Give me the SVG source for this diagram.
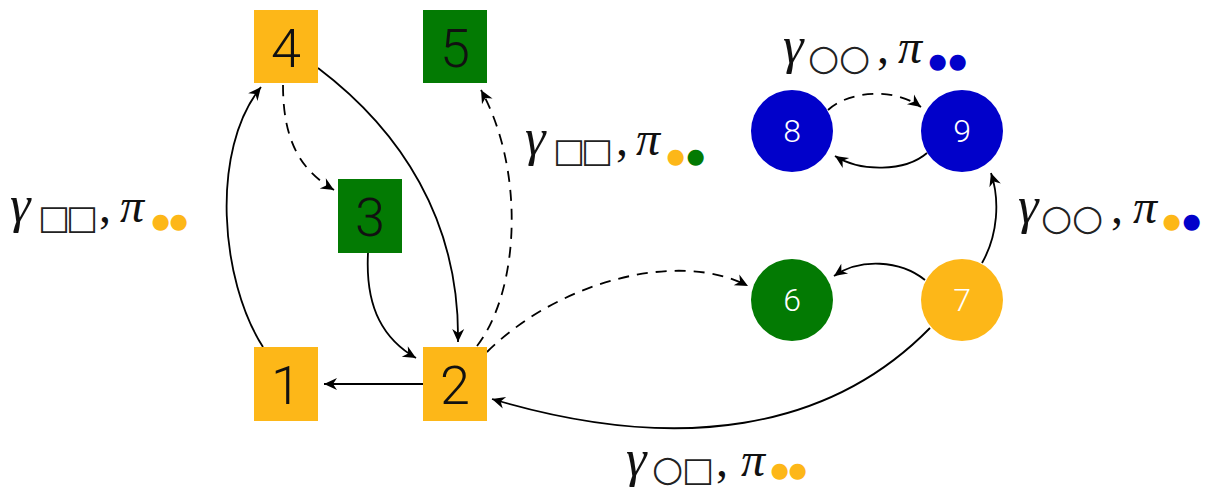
<svg xmlns="http://www.w3.org/2000/svg" width="1214" height="488" viewBox="0 0 1214 488">
<defs>
<style>
.sq{stroke:none}
.org{fill:#FDB718}
.grn{fill:#037A03}
.blu{fill:#0101CA}
.num{font-family:"Roboto","Liberation Sans","DejaVu Sans",sans-serif;font-weight:300;font-size:54px;fill:#111;text-anchor:middle}
.cnum{font-family:"Roboto","Liberation Sans","DejaVu Sans",sans-serif;font-weight:300;font-size:32px;fill:#fff;text-anchor:middle}
.e{fill:none;stroke:#000;stroke-width:1.8;marker-end:url(#ah)}
.d{stroke-dasharray:11 8}
.lbl{font-family:"Liberation Serif","DejaVu Serif",serif;font-size:48px;fill:#111}
.it{font-style:italic}
.gm{font-style:italic;font-size:52px}
.sq2{font-family:"DejaVu Sans",sans-serif;font-size:34px;fill:#222}
.ci{font-family:"DejaVu Sans",sans-serif;font-size:36px;fill:#222}
.dot{font-family:"DejaVu Sans",sans-serif;font-size:21px}
.dy{fill:#FDB718}
.dg{fill:#037A03}
.db{fill:#0101CA}
</style>
<marker id="ah" viewBox="-14 -6.5 15 13" refX="0" refY="0" markerWidth="15" markerHeight="13" markerUnits="userSpaceOnUse" orient="auto">
<path d="M-13,-6 L0,0 L-13,6 L-9,0 Z" fill="#000"/>
</marker>
</defs>

<g id="edges">
<path class="e" d="M263,347 C220,280 210,150 261,87"/>
<path class="e" d="M318,68 C400,130 460,220 458,342"/>
<path class="e d" d="M283,85 C283,140 300,170 334,190"/>
<path class="e" d="M368,253 C365,310 385,340 416,358"/>
<path class="e d" d="M477,346 C520,290 525,170 481,90"/>
<path class="e d" d="M487,352 C560,280 680,250 748,286"/>
<path class="e" d="M423,384 L324,384"/>
<path class="e" d="M925,280 C900,260 860,258 834,276"/>
<path class="e" d="M930,328 C830,430 680,455 492,399"/>
<path class="e" d="M982,263 C998,235 1000,200 991,173"/>
<path class="e d" d="M828,110 C850,90 895,88 921,107"/>
<path class="e" d="M927,153 C905,172 860,172 835,156"/>
</g>

<g id="n4"><rect class="sq org" x="254" y="10" width="64" height="73"/><text class="num" x="286" y="67">4</text></g>
<g id="n5"><rect class="sq grn" x="423" y="10" width="64" height="73"/><text class="num" x="455" y="67">5</text></g>
<g id="n3"><rect class="sq grn" x="338" y="179" width="64" height="74"/><text class="num" x="370" y="236">3</text></g>
<g id="n1"><rect class="sq org" x="254" y="347" width="64" height="74"/><text class="num" x="286" y="404">1</text></g>
<g id="n2"><rect class="sq org" x="423" y="347" width="64" height="74"/><text class="num" x="455" y="404">2</text></g>
<g id="n8"><circle class="blu" cx="792" cy="131" r="41"/><text class="cnum" x="792" y="142">8</text></g>
<g id="n9"><circle class="blu" cx="962" cy="131" r="41"/><text class="cnum" x="962" y="142">9</text></g>
<g id="n6"><circle class="grn" cx="792" cy="300" r="41"/><text class="cnum" x="792" y="311">6</text></g>
<g id="n7"><circle class="org" cx="962" cy="300" r="41"/><text class="cnum" x="962" y="311">7</text></g>

<g id="labels">
<text class="lbl"><tspan class="gm" x="10" y="222">γ</tspan><tspan class="sq2" x="38" y="229">□</tspan><tspan class="sq2" x="66" y="229">□</tspan><tspan x="99" y="222">,</tspan><tspan class="it" x="120" y="222">π</tspan><tspan class="dot dy" x="151.5" y="228">●</tspan><tspan class="dot dy" x="169.5" y="228">●</tspan></text>
<text class="lbl"><tspan class="gm" x="525" y="155">γ</tspan><tspan class="sq2" x="553" y="162">□</tspan><tspan class="sq2" x="581" y="162">□</tspan><tspan x="616" y="155">,</tspan><tspan class="it" x="636" y="155">π</tspan><tspan class="dot dy" x="666.5" y="163">●</tspan><tspan class="dot dg" x="686.5" y="163">●</tspan></text>
<text class="lbl"><tspan class="gm" x="783" y="63">γ</tspan><tspan class="ci" x="808" y="70">○</tspan><tspan class="ci" x="839" y="70">○</tspan><tspan x="877" y="63">,</tspan><tspan class="it" x="898" y="63">π</tspan><tspan class="dot db" x="928.5" y="68">●</tspan><tspan class="dot db" x="948.5" y="68">●</tspan></text>
<text class="lbl"><tspan class="gm" x="1018" y="223">γ</tspan><tspan class="ci" x="1041" y="230">○</tspan><tspan class="ci" x="1072" y="230">○</tspan><tspan x="1111" y="223">,</tspan><tspan class="it" x="1133" y="223">π</tspan><tspan class="dot dy" x="1162.5" y="228">●</tspan><tspan class="dot db" x="1182.5" y="228">●</tspan></text>
<text class="lbl"><tspan class="gm" x="626" y="476">γ</tspan><tspan class="ci" x="652" y="481">○</tspan><tspan class="sq2" x="682" y="481">□</tspan><tspan x="716" y="476">,</tspan><tspan class="it" x="741" y="476">π</tspan><tspan class="dot dy" x="770.5" y="477">●</tspan><tspan class="dot dy" x="788.5" y="477">●</tspan></text>
</g>
</svg>
